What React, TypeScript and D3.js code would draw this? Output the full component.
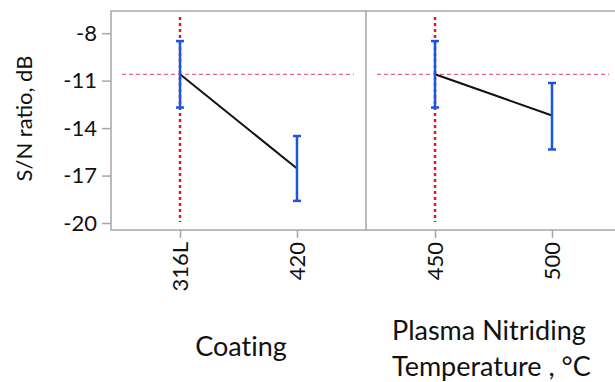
import React, { useRef, useEffect } from "react";
import * as d3 from "d3";

// main effects plot data (S/N ratio)
const factorNames = ["Coating", "Plasma Nitriding|Temperature , °C"];
const coatingLevels = ["316L", "420"];
const coatingMeans = [-10.6, -16.55];
const coatingUpper = [-8.5, -14.5];
const coatingLower = [-12.7, -18.6];
const tempLevels = ["450", "500"];
const tempMeans = [-10.6, -13.2];
const tempUpper = [-8.5, -11.15];
const tempLower = [-12.7, -15.35];
const refMean = -10.6;
const yTicks = [-8, -11, -14, -17, -20];

const FONT = "Lato, 'Open Sans', sans-serif";

function App() {
  const svgRef = useRef<SVGSVGElement>(null);

  useEffect(() => {
    const svg = d3.select(svgRef.current);
    svg.selectAll("*").remove();

    const top = 11;
    const bottom = 230;
    const left = 111;
    const mid = 366;
    const right = 621;
    const grey = "#a6a6a6";
    const blue = "#1c54e6";

    const y = d3.scaleLinear().domain([-20.44, -6.6]).range([bottom, top]);

    const panels = [
      { levels: coatingLevels, means: coatingMeans, up: coatingUpper, lo: coatingLower, x0: left, x1: mid },
      { levels: tempLevels, means: tempMeans, up: tempUpper, lo: tempLower, x0: mid, x1: right },
    ];

    // frame
    svg.append("rect")
      .attr("x", left).attr("y", top)
      .attr("width", right - left).attr("height", bottom - top)
      .attr("fill", "none").attr("stroke", grey).attr("stroke-width", 1.5);
    svg.append("line")
      .attr("x1", mid).attr("x2", mid).attr("y1", top).attr("y2", bottom)
      .attr("stroke", grey).attr("stroke-width", 1.5);

    // y axis
    const yAxis = svg.append("g")
      .attr("transform", `translate(${left},0)`)
      .call(d3.axisLeft(y).tickValues(yTicks).tickSize(9).tickPadding(5).tickFormat((d) => String(d)));
    yAxis.select(".domain").remove();
    yAxis.selectAll("line").attr("stroke", grey).attr("stroke-width", 1.5);
    yAxis.selectAll("text")
      .attr("font-family", FONT).attr("font-size", 22).attr("fill", "#111");

    svg.append("text")
      .attr("transform", `translate(32,${(top + bottom) / 2 - 2}) rotate(-90)`)
      .attr("text-anchor", "middle")
      .attr("font-family", FONT).attr("font-size", 22).attr("fill", "#111")
      .text("S/N ratio, dB");

    panels.forEach((p, i) => {
      const x = d3.scalePoint<string>().domain(p.levels).range([p.x0, p.x1]).padding(0.59);

      // bottom axis
      const xAxis = svg.append("g")
        .attr("transform", `translate(0,${bottom})`)
        .call(d3.axisBottom(x).tickSize(8).tickPadding(6));
      xAxis.select(".domain").remove();
      xAxis.selectAll("line").attr("stroke", grey).attr("stroke-width", 1.5);
      xAxis.selectAll("text")
        .attr("font-family", FONT).attr("font-size", 22).attr("fill", "#111")
        .attr("transform", "rotate(-90)")
        .attr("text-anchor", "end")
        .attr("x", -12).attr("y", 0).attr("dy", "0.35em");

      // reference lines
      const cx = x(p.levels[0]) as number;
      svg.append("line")
        .attr("x1", p.x0 + 11).attr("x2", p.x1 - 12)
        .attr("y1", y(refMean)).attr("y2", y(refMean))
        .attr("stroke", "#e0405a").attr("stroke-width", 1).attr("stroke-dasharray", "4,3");
      svg.append("line")
        .attr("x1", cx).attr("x2", cx)
        .attr("y1", top + 6).attr("y2", bottom - 8)
        .attr("stroke", "#e8142c").attr("stroke-width", 2.5).attr("stroke-dasharray", "3,3");

      // mean line
      const line = d3.line<number>()
        .x((_, j) => x(p.levels[j]) as number)
        .y((d) => y(d));
      svg.append("path")
        .datum(p.means)
        .attr("d", line)
        .attr("fill", "none").attr("stroke", "#111").attr("stroke-width", 2);

      // error bars
      const g = svg.append("g");
      p.levels.forEach((lv, j) => {
        const px = x(lv) as number;
        g.append("line")
          .attr("x1", px).attr("x2", px).attr("y1", y(p.up[j])).attr("y2", y(p.lo[j]))
          .attr("stroke", blue).attr("stroke-width", 2.5);
        [p.up[j], p.lo[j]].forEach((v) => {
          g.append("line")
            .attr("x1", px - 4).attr("x2", px + 4).attr("y1", y(v)).attr("y2", y(v))
            .attr("stroke", blue).attr("stroke-width", 2.5);
        });
      });

      // factor title
      const lines = factorNames[i].split("|");
      const t = svg.append("text")
        .attr("font-family", FONT).attr("font-size", 27).attr("fill", "#111")
        .style("font-variant-ligatures", "none");
      if (lines.length === 1) {
        t.attr("x", 241).attr("y", 356).attr("text-anchor", "middle").text(lines[0]);
      } else {
        lines.forEach((s, k) => {
          t.append("tspan").attr("x", 392).attr("y", 340 + k * 36).text(s);
        });
      }
    });
  }, []);

  return (
    <svg
      ref={svgRef}
      width={615}
      height={382}
      style={{ position: "absolute", left: 0, top: 0, background: "#fff" }}
    />
  );
}

export default App;
